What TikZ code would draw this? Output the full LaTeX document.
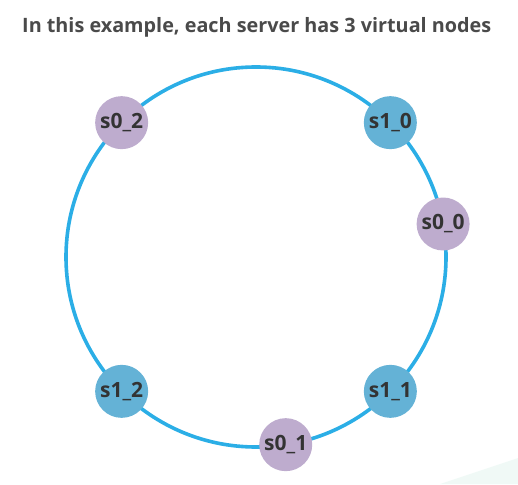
\documentclass[tikz,border=0pt]{standalone}
\usepackage{fontspec}
\setmainfont{Open Sans}
\usepackage{xcolor}
\usepackage{tikz}
\definecolor{ringblue}{HTML}{2BAEE6}
\definecolor{serverone}{HTML}{64B2D6}
\definecolor{serverzero}{HTML}{BEACCE}
\definecolor{labeltext}{HTML}{333333}
\definecolor{titletext}{HTML}{4A4A4A}
\definecolor{mint}{HTML}{F0F9F6}
\tikzset{vnode/.style={circle,minimum size=53pt,inner sep=0pt,text=labeltext,font=\fontsize{21}{21}\selectfont\bfseries},
         s1 node/.style={vnode,fill=serverone},
         s0 node/.style={vnode,fill=serverzero},}

\begin{document}
\begin{tikzpicture}[x=1pt,y=1pt]
       \useasboundingbox (-256,-227) rectangle (262,257);
       \fill[mint] (184,-227) -- (262,-201) -- (262,-227) -- cycle;

       \node[anchor=base west,inner sep=0pt,text=titletext,font=\fontsize{19.8}{19.8}\selectfont\bfseries] (title) at (-234,224) {In this example, each server has 3 virtual nodes};

       \coordinate (c) at (0,0);
       \draw[ringblue,line width=3.6pt] (c) circle (190);

       \node[s1 node] (s10) at (45:190) {s1\_0};
       \node[s0 node] (s00) at (10:190) {s0\_0};
       \node[s1 node] (s11) at (-45:190) {s1\_1};
       \node[s0 node] (s01) at (-81:190) {s0\_1};
       \node[s1 node] (s12) at (-135:190) {s1\_2};
       \node[s0 node] (s02) at (135:190) {s0\_2};
    \end{tikzpicture}
\end{document}
